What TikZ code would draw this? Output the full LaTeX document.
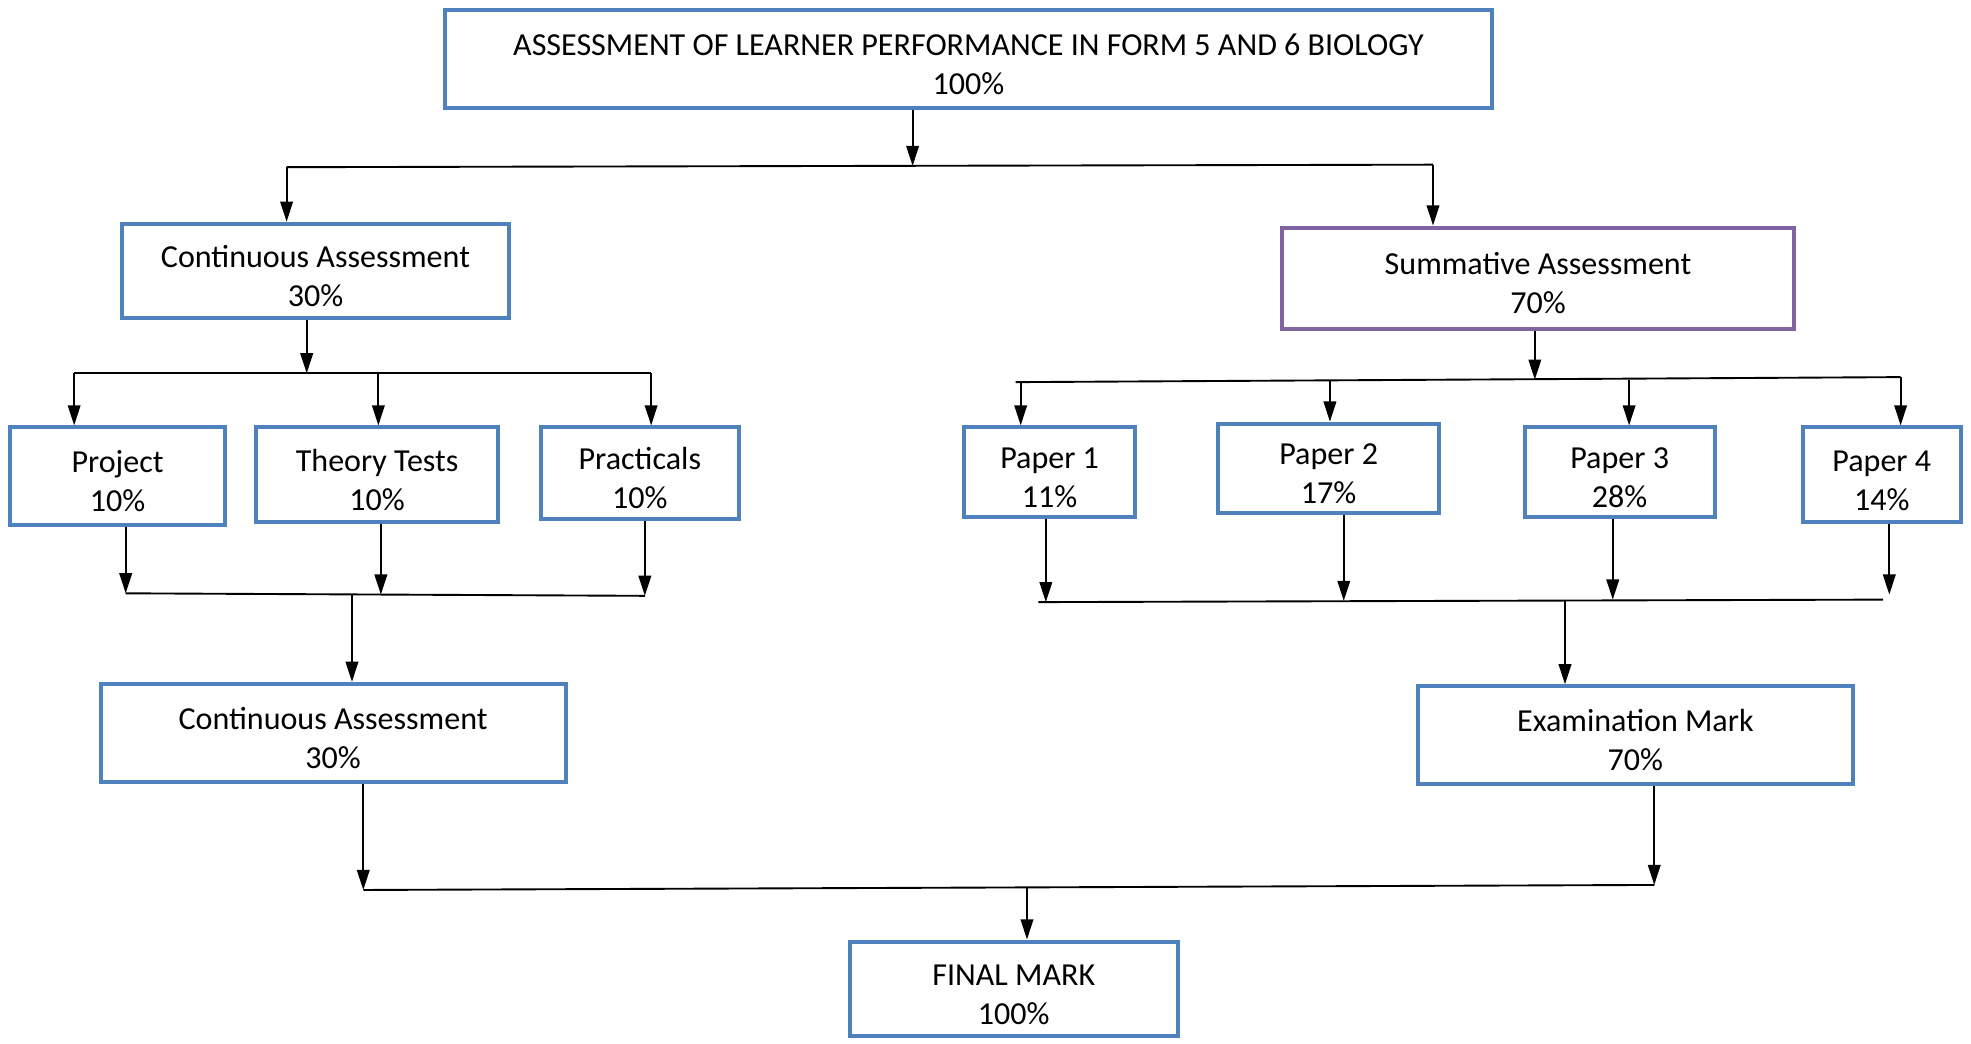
\documentclass[tikz,border=0pt]{standalone}
\usepackage{fontspec}
\setmainfont{Carlito}
\usetikzlibrary{arrows.meta}
\definecolor{boxblue}{HTML}{4F81BD}
\definecolor{boxpurple}{HTML}{8064A2}
\begin{document}
\begin{tikzpicture}[x=1pt,y=-1pt,
  box/.style={draw=boxblue,line width=3.2pt,fill=white,inner sep=0pt,align=center,
    text height=56.5pt,text depth=0pt,font=\fontsize{25.5}{31}\selectfont},
  conn/.style={line width=1.5pt,black},
  arr/.style={conn,-{Triangle[length=16pt,width=10pt]}}]
\useasboundingbox (0,0) rectangle (1568,830);
% boxes
\node[box,minimum width=833pt,minimum height=78pt] (top) at (770.5,47) {ASSESSMENT OF LEARNER PERFORMANCE IN FORM 5 AND 6 BIOLOGY\\100\%};
\node[box,minimum width=308pt,minimum height=75pt] (ca1) at (251,215.5) {Continuous Assessment\\30\%};
\node[box,draw=boxpurple,minimum width=407pt,minimum height=81pt] (sa) at (1223.5,221.5) {Summative Assessment\\70\%};
\node[box,minimum width=171pt,minimum height=78pt] (proj) at (93.5,379) {Project\\10\%};
\node[box,minimum width=192pt,minimum height=75pt] (theory) at (300,377.5) {Theory Tests\\10\%};
\node[box,minimum width=158pt,minimum height=73pt] (prac) at (509,376.5) {Practicals\\10\%};
\node[box,minimum width=136pt,minimum height=71pt] (p1) at (835,375.5) {Paper 1\\11\%};
\node[box,minimum width=176pt,minimum height=71pt] (p2) at (1057,372.5) {Paper 2\\17\%};
\node[box,minimum width=151pt,minimum height=71pt] (p3) at (1288.5,375.5) {Paper 3\\28\%};
\node[box,minimum width=126pt,minimum height=75pt] (p4) at (1497,377.5) {Paper 4\\14\%};
\node[box,minimum width=370pt,minimum height=78pt] (ca2) at (265,583) {Continuous Assessment\\30\%};
\node[box,minimum width=346pt,minimum height=78pt] (exam) at (1301,585) {Examination Mark\\70\%};
\node[box,minimum width=261pt,minimum height=75pt] (final) at (806.5,786.5) {FINAL MARK\\100\%};
% junction coordinates
\coordinate (b1m) at (726,132);
\coordinate (b1l) at (228,133);
\coordinate (b1r) at (1140,131);
\coordinate (b2m) at (244,297);
\coordinate (b2l) at (59,297);
\coordinate (b2t) at (301,297);
\coordinate (b2r) at (518,297);
\coordinate (b3l) at (100,472);
\coordinate (b3t) at (303,473);
\coordinate (b3r) at (513,474);
\coordinate (b3m) at (280,473);
\coordinate (b4l) at (808,304);
\coordinate (b4a) at (812,304);
\coordinate (b4b) at (1058,303);
\coordinate (b4m) at (1221,302);
\coordinate (b4c) at (1296,302);
\coordinate (b4r) at (1512,300);
\coordinate (b5l) at (826,479);
\coordinate (b5a) at (832,479);
\coordinate (b5b) at (1069,478);
\coordinate (b5m) at (1245,478);
\coordinate (b5c) at (1283,477);
\coordinate (b5d) at (1503,473);
\coordinate (b5r) at (1498,477);
\coordinate (b6l) at (289,708);
\coordinate (b6m) at (817,706);
\coordinate (b6r) at (1316,704);
% level 1
\draw[arr] (top.south -| b1m) -- (b1m);
\draw[conn] (b1l) -- (b1r);
\draw[arr] (b1l) -- (ca1.north -| b1l);
\draw[arr] (b1r) -- (sa.north -| b1r);
% continuous branch
\draw[arr] (ca1.south -| b2m) -- (b2m);
\draw[conn] (b2l) -- (b2r);
\draw[arr] (b2l) -- (proj.north -| b2l);
\draw[arr] (b2t) -- (theory.north -| b2t);
\draw[arr] (b2r) -- (prac.north -| b2r);
\draw[arr] (proj.south -| b3l) -- (b3l);
\draw[arr] (theory.south -| b3t) -- (b3t);
\draw[arr] (prac.south -| b3r) -- (b3r);
\draw[conn] (b3l) -- (b3r);
\draw[arr] (b3m) -- (ca2.north -| b3m);
% summative branch
\draw[arr] (sa.south -| b4m) -- (b4m);
\draw[conn] (b4l) -- (b4r);
\draw[arr] (b4a) -- (p1.north -| b4a);
\draw[arr] (b4b) -- (p2.north -| b4b);
\draw[arr] (b4c) -- (p3.north -| b4c);
\draw[arr] (b4r) -- (p4.north -| b4r);
\draw[arr] (p1.south -| b5a) -- (b5a);
\draw[arr] (p2.south -| b5b) -- (b5b);
\draw[arr] (p3.south -| b5c) -- (b5c);
\draw[arr] (p4.south -| b5d) -- (b5d);
\draw[conn] (b5l) -- (b5r);
\draw[arr] (b5m) -- (exam.north -| b5m);
% final
\draw[arr] (ca2.south -| b6l) -- (b6l);
\draw[arr] (exam.south -| b6r) -- (b6r);
\draw[conn] (b6l) -- (b6r);
\draw[arr] (b6m) -- (final.north -| b6m);
\end{tikzpicture}
\end{document}
